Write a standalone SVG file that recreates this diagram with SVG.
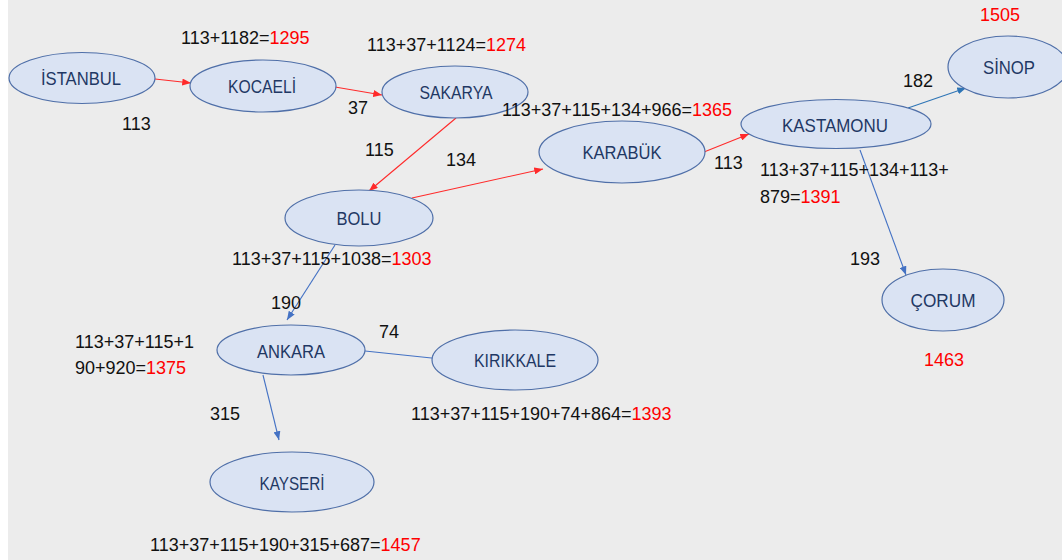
<svg xmlns="http://www.w3.org/2000/svg" width="1062" height="560" viewBox="0 0 1062 560">
<style>
.node ellipse{fill:#dae3f3;stroke:#4f6fa8;stroke-width:1.2}
.node text{font-family:"Liberation Sans",Arial,sans-serif;font-size:19px;fill:#1f3864;text-anchor:middle}
.lbl{font-family:"Liberation Sans",Arial,sans-serif;font-size:18px;fill:#111}
.r{fill:#ff0000}
.red{stroke:#ff2a2a;stroke-width:1.1;fill:none;marker-end:url(#ar)}
.blue{stroke:#4472c4;stroke-width:1.1;fill:none;marker-end:url(#ab)}
.blue2{stroke:#2e75b6;stroke-width:1.1;fill:none;marker-end:url(#ab2)}
</style>
<defs>
<marker id="ar" viewBox="0 0 10 8" refX="10" refY="4" markerWidth="9" markerHeight="7" markerUnits="userSpaceOnUse" orient="auto"><path d="M0,0 L10,4 L0,8 z" fill="#ff2a2a"/></marker>
<marker id="ab" viewBox="0 0 10 8" refX="10" refY="4" markerWidth="9" markerHeight="7" markerUnits="userSpaceOnUse" orient="auto"><path d="M0,0 L10,4 L0,8 z" fill="#4472c4"/></marker>
<marker id="ab2" viewBox="0 0 10 8" refX="10" refY="4" markerWidth="9" markerHeight="7" markerUnits="userSpaceOnUse" orient="auto"><path d="M0,0 L10,4 L0,8 z" fill="#2e75b6"/></marker>
</defs>
<rect x="0" y="0" width="1062" height="560" fill="#ffffff"/>
<rect x="8" y="0" width="1054" height="560" fill="#ececec"/>

<g id="connectors">
<line class="red" x1="155" y1="79" x2="191" y2="83"/>
<line class="red" x1="335" y1="87" x2="382" y2="95"/>
<line class="red" x1="456" y1="118" x2="369" y2="191"/>
<line class="red" x1="412" y1="198" x2="543" y2="169"/>
<line class="red" x1="704" y1="152" x2="749" y2="134"/>
<line class="blue2" x1="908" y1="108" x2="966" y2="88"/>
<line class="blue" x1="860" y1="150" x2="906" y2="275"/>
<line class="blue" x1="335" y1="245" x2="287" y2="320"/>
<line class="blue" x1="365" y1="351" x2="441" y2="359"/>
<line class="blue" x1="263" y1="375" x2="279" y2="440"/>
</g>

<g id="istanbul" class="node"><ellipse cx="82" cy="78" rx="73" ry="25.5"/><text x="81" y="85" textLength="80" lengthAdjust="spacingAndGlyphs">İSTANBUL</text></g>
<g id="kocaeli" class="node"><ellipse cx="263" cy="86" rx="73" ry="26"/><text x="262" y="93" textLength="68" lengthAdjust="spacingAndGlyphs">KOCAELİ</text></g>
<g id="sakarya" class="node"><ellipse cx="455" cy="92" rx="73" ry="26"/><text x="456" y="99" textLength="73" lengthAdjust="spacingAndGlyphs">SAKARYA</text></g>
<g id="karabuk" class="node"><ellipse cx="622" cy="152" rx="83" ry="31"/><text x="622" y="159" textLength="79" lengthAdjust="spacingAndGlyphs">KARABÜK</text></g>
<g id="kastamonu" class="node"><ellipse cx="836" cy="124" rx="95" ry="24.5"/><text x="835" y="131.5" textLength="106" lengthAdjust="spacingAndGlyphs">KASTAMONU</text></g>
<g id="sinop" class="node"><ellipse cx="1008" cy="67" rx="60" ry="31"/><text x="1009" y="74" textLength="52" lengthAdjust="spacingAndGlyphs">SİNOP</text></g>
<g id="bolu" class="node"><ellipse cx="359" cy="218" rx="74" ry="28"/><text x="359" y="225" textLength="45" lengthAdjust="spacingAndGlyphs">BOLU</text></g>
<g id="ankara" class="node"><ellipse cx="291" cy="350" rx="74" ry="25"/><text x="291" y="358" textLength="68" lengthAdjust="spacingAndGlyphs">ANKARA</text></g>
<g id="kirikkale" class="node"><ellipse cx="515" cy="360" rx="83" ry="30"/><text x="515" y="367" textLength="82" lengthAdjust="spacingAndGlyphs">KIRIKKALE</text></g>
<g id="kayseri" class="node"><ellipse cx="292" cy="482" rx="82" ry="30"/><text x="292" y="490" textLength="65" lengthAdjust="spacingAndGlyphs">KAYSERİ</text></g>
<g id="corum" class="node"><ellipse cx="943" cy="300" rx="61" ry="31"/><text x="943" y="307" textLength="65" lengthAdjust="spacingAndGlyphs">ÇORUM</text></g>

<g id="labels">
<text class="lbl" x="181" y="44">113+1182=<tspan class="r">1295</tspan></text>
<text class="lbl" x="367" y="51">113+37+1124=<tspan class="r">1274</tspan></text>
<text class="lbl" x="122" y="130">113</text>
<text class="lbl" x="348" y="114">37</text>
<text class="lbl" x="502" y="116">113+37+115+134+966=<tspan class="r">1365</tspan></text>
<text class="lbl" x="903" y="87">182</text>
<text class="lbl r" x="980" y="21">1505</text>
<text class="lbl" x="714" y="169">113</text>
<text class="lbl" x="760" y="176">113+37+115+134+113+</text>
<text class="lbl" x="760" y="203">879=<tspan class="r">1391</tspan></text>
<text class="lbl" x="365" y="156">115</text>
<text class="lbl" x="446" y="166">134</text>
<text class="lbl" x="232" y="265">113+37+115+1038=<tspan class="r">1303</tspan></text>
<text class="lbl" x="271" y="309">190</text>
<text class="lbl" x="75" y="348">113+37+115+1</text>
<text class="lbl" x="75" y="374">90+920=<tspan class="r">1375</tspan></text>
<text class="lbl" x="379" y="338">74</text>
<text class="lbl" x="210" y="420">315</text>
<text class="lbl" x="411" y="420">113+37+115+190+74+864=<tspan class="r">1393</tspan></text>
<text class="lbl" x="150" y="551">113+37+115+190+315+687=<tspan class="r">1457</tspan></text>
<text class="lbl" x="850" y="265">193</text>
<text class="lbl r" x="924" y="366">1463</text>
</g>
</svg>
